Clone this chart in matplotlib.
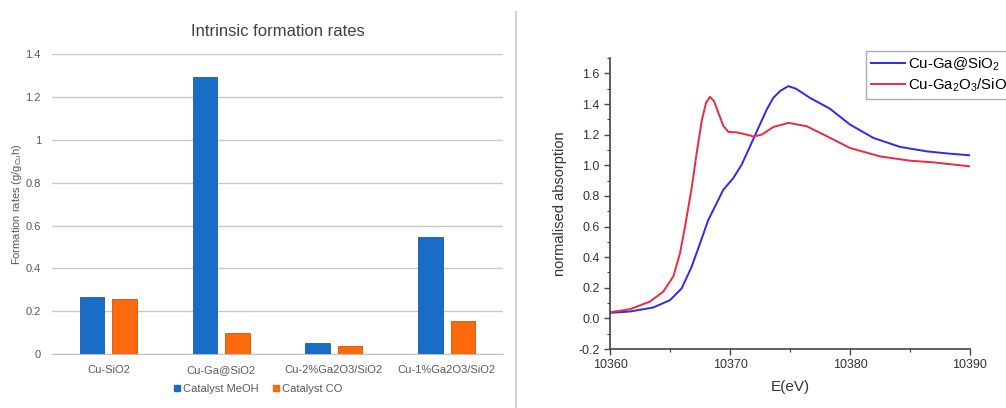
import matplotlib.pyplot as plt
import numpy as np
from matplotlib.lines import Line2D
from matplotlib.ticker import MultipleLocator, FormatStrFormatter

plt.rcParams['font.family'] = ['Liberation Sans', 'DejaVu Sans']
plt.rcParams['mathtext.default'] = 'regular'

# formation rates per catalyst
catalysts = ['Cu-SiO2', 'Cu-Ga@SiO2', 'Cu-2%Ga2O3/SiO2', 'Cu-1%Ga2O3/SiO2']
rate_meoh = [0.266, 1.295, 0.054, 0.546]
rate_co = [0.258, 0.100, 0.037, 0.157]

# XANES spectra, Cu K edge
e_ga_sio2 = [10360.0, 10361.67, 10363.6, 10365.0, 10365.97, 10366.8, 10367.5, 10368.19,
             10368.61, 10369.44, 10370.28, 10370.97, 10371.67, 10372.36, 10373.06, 10373.6,
             10374.17, 10374.86, 10375.5, 10376.67, 10378.33, 10380.0, 10381.94, 10384.17,
             10386.39, 10388.0, 10390.0]
mu_ga_sio2 = [0.036, 0.045, 0.071, 0.119, 0.196, 0.337, 0.49, 0.643,
              0.709, 0.84, 0.917, 1.004, 1.124, 1.244, 1.364, 1.44,
              1.485, 1.517, 1.50, 1.44, 1.369, 1.266, 1.179, 1.12,
              1.091, 1.078, 1.065]

e_ga2o3 = [10360.0, 10361.67, 10363.33, 10364.44, 10365.28, 10365.83, 10366.25, 10366.8,
           10367.22, 10367.64, 10368.0, 10368.33, 10368.67, 10369.03, 10369.44, 10369.86,
           10370.56, 10371.39, 10371.94, 10372.64, 10373.61, 10374.86, 10376.39, 10378.06,
           10380.0, 10382.5, 10385.0, 10386.94, 10390.0]
mu_ga2o3 = [0.04, 0.06, 0.11, 0.175, 0.275, 0.425, 0.60, 0.85,
            1.08, 1.29, 1.408, 1.447, 1.418, 1.342, 1.258, 1.218,
            1.215, 1.2, 1.188, 1.2, 1.25, 1.277, 1.255, 1.19,
            1.113, 1.058, 1.03, 1.019, 0.993]

fig = plt.figure(figsize=(10.06, 4.08), dpi=100)

# --- bar chart ---
ax1 = fig.add_axes([0.0517, 0.132, 0.4483, 0.735])
x = np.arange(len(catalysts))
w = 0.217
ax1.bar(x - 0.144, rate_meoh, w, color='#1a6dc6', edgecolor='#175ba3', linewidth=0.6, zorder=3)
ax1.bar(x + 0.144, rate_co, w, color='#fc6a0c', edgecolor='#c9550a', linewidth=0.6, zorder=3)
ax1.set_xlim(-0.5, len(catalysts) - 0.5)
ax1.set_ylim(0, 1.4)
ax1.set_yticks([0, 0.2, 0.4, 0.6, 0.8, 1.0, 1.2, 1.4])
ax1.set_yticklabels(['0', '0.2', '0.4', '0.6', '0.8', '1', '1.2', '1.4'])
ax1.set_xticks(x)
ax1.set_xticklabels(catalysts)
ax1.grid(axis='y', color='#c8c8c8', linewidth=1.0, zorder=0)
for s in ['top', 'right', 'left']:
    ax1.spines[s].set_visible(False)
ax1.spines['bottom'].set_color('#bfbfbf')
ax1.tick_params(axis='both', length=0, labelsize=8, labelcolor='#595959', pad=8)
ax1.set_ylabel('Formation rates (g/g$_{Cu}$h)', fontsize=8, color='#595959')
ax1.yaxis.set_label_coords(-0.062, 0.5)
ax1.set_title('Intrinsic formation rates', fontsize=12, color='#404040', pad=13)

handles = [Line2D([], [], marker='s', linestyle='none', markersize=5, color='#1a6dc6'),
           Line2D([], [], marker='s', linestyle='none', markersize=5, color='#fc6a0c')]
fig.legend(handles, ['Catalyst MeOH', 'Catalyst CO'], loc='center', bbox_to_anchor=(0.256, 0.047),
           ncol=2, frameon=False, fontsize=8, labelcolor='#595959', handletextpad=0.1,
           columnspacing=1.2, handlelength=0.8)

# divider between the two panels
fig.add_artist(Line2D([0.513, 0.513], [0.0, 0.97], color='#d4d4d4', linewidth=1.5))

# --- XANES panel ---
ax2 = fig.add_axes([0.6064, 0.1446, 0.3578, 0.713])
ax2.plot(e_ga_sio2, mu_ga_sio2, color='#2a2af0', linewidth=1.4, label='Cu-Ga@SiO$_2$')
ax2.plot(e_ga2o3, mu_ga2o3, color='#f0283c', linewidth=1.4, label='Cu-Ga$_2$O$_3$/SiO$_2$')
ax2.set_xlim(10360, 10390)
ax2.set_ylim(-0.2, 1.7)
ax2.xaxis.set_major_locator(MultipleLocator(10))
ax2.xaxis.set_minor_locator(MultipleLocator(5))
ax2.yaxis.set_minor_locator(MultipleLocator(0.1))
ax2.set_yticks(np.arange(-0.2, 1.61, 0.2))
ax2.yaxis.set_major_formatter(FormatStrFormatter('%.1f'))
for s in ['top', 'right']:
    ax2.spines[s].set_visible(False)
for s in ['left', 'bottom']:
    ax2.spines[s].set_color('#444444')
    ax2.spines[s].set_linewidth(1.2)
ax2.tick_params(axis='both', which='major', direction='out', length=4, width=1.0,
                color='#444444', labelsize=9, labelcolor='#333333')
ax2.tick_params(axis='both', which='minor', direction='out', length=2.5, width=0.8, color='#444444')
ax2.set_xlabel('E(eV)', fontsize=11, color='#333333', labelpad=6)
ax2.set_ylabel('normalised absorption', fontsize=10.5, color='#333333', labelpad=8)
ax2.legend(loc='upper left', bbox_to_anchor=(0.861, 0.875), bbox_transform=fig.transFigure,
           fontsize=10.8, frameon=True, fancybox=False, edgecolor='#999999', borderaxespad=0,
           borderpad=0.3, handlelength=2.3, handletextpad=0.2, labelspacing=0.25)

fig.savefig('out.png', dpi=100)
